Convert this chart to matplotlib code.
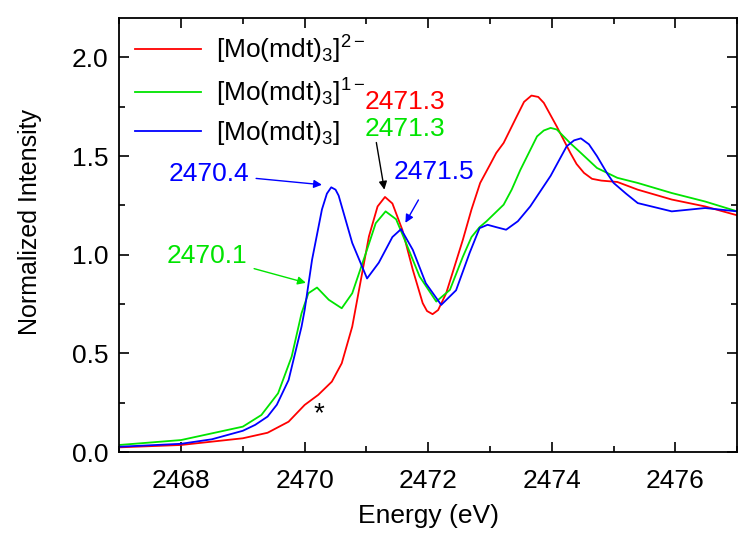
import numpy as np
import matplotlib
matplotlib.use('Agg')
import matplotlib.pyplot as plt

plt.rcParams['font.family'] = ['Liberation Sans', 'DejaVu Sans']
plt.rcParams['mathtext.fontset'] = 'custom'
plt.rcParams['mathtext.rm'] = 'Liberation Sans'
plt.rcParams['mathtext.it'] = 'Liberation Sans:italic'

# [Mo(mdt)3]2-  (red)
e_red = [2467.0, 2468.0, 2469.0, 2469.4, 2469.74, 2470.0, 2470.22, 2470.44, 2470.6,
         2470.77, 2470.9, 2471.04, 2471.18, 2471.3, 2471.42, 2471.58, 2471.75, 2471.91,
         2471.98, 2472.07, 2472.16, 2472.29, 2472.56, 2472.7, 2472.84, 2473.0, 2473.1,
         2473.22, 2473.43, 2473.55, 2473.67, 2473.78, 2473.87, 2474.08,
         2474.3, 2474.4, 2474.52, 2474.65, 2474.8, 2475.06, 2475.39, 2475.94, 2476.48, 2477.0]
i_red = [0.024, 0.036, 0.07, 0.098, 0.154, 0.239, 0.29, 0.357, 0.45,
         0.636, 0.856, 1.093, 1.245, 1.293, 1.26, 1.127, 0.924, 0.755,
         0.715, 0.699, 0.72, 0.805, 1.076, 1.23, 1.364, 1.457, 1.516,
         1.567, 1.70, 1.775, 1.807, 1.80, 1.77, 1.65,
         1.516, 1.46, 1.415, 1.385, 1.376, 1.369, 1.33, 1.28, 1.245, 1.20]

# [Mo(mdt)3]1-  (green)
e_grn = [2467.0, 2468.0, 2469.0, 2469.3, 2469.57, 2469.79, 2469.95, 2470.06, 2470.2,
         2470.39, 2470.6, 2470.77, 2470.99, 2471.15, 2471.31, 2471.48, 2471.64, 2471.86,
         2472.13, 2472.35, 2472.56, 2472.7, 2472.83, 2472.94, 2473.22, 2473.35, 2473.49,
         2473.76, 2473.87, 2473.98, 2474.08, 2474.19, 2474.3,
         2474.47, 2474.73, 2475.06, 2475.39, 2475.94, 2476.48, 2477.0]
i_grn = [0.036, 0.061, 0.129, 0.188, 0.298, 0.484, 0.704, 0.805, 0.834,
         0.772, 0.729, 0.805, 1.008, 1.16, 1.22, 1.18, 1.06, 0.89,
         0.763, 0.822, 0.99, 1.09, 1.14, 1.169, 1.254, 1.33, 1.43,
         1.60, 1.63, 1.643, 1.635, 1.60, 1.565,
         1.516, 1.44, 1.39, 1.364, 1.313, 1.27, 1.22]

# [Mo(mdt)3]  (blue)
e_blu = [2467.0, 2468.0, 2468.5, 2469.0, 2469.2, 2469.4, 2469.55, 2469.74, 2469.95, 2470.0,
         2470.12, 2470.28, 2470.36, 2470.43, 2470.5, 2470.55, 2470.77, 2471.01, 2471.2,
         2471.42, 2471.56, 2471.75, 2471.96, 2472.21, 2472.45, 2472.67, 2472.83, 2472.96,
         2473.1, 2473.26, 2473.45, 2473.65, 2473.98, 2474.24, 2474.36, 2474.47, 2474.6,
         2474.73, 2474.9, 2475.0, 2475.2, 2475.39, 2475.94, 2476.48, 2477.0]
i_blu = [0.027, 0.042, 0.065, 0.108, 0.138, 0.18, 0.24, 0.365, 0.636, 0.72,
         0.975, 1.23, 1.31, 1.342, 1.33, 1.30, 1.06, 0.88, 0.96,
         1.09, 1.13, 1.025, 0.856, 0.746, 0.82, 1.01, 1.135, 1.152,
         1.14, 1.127, 1.17, 1.245, 1.40, 1.55, 1.58, 1.59, 1.56,
         1.50, 1.41, 1.364, 1.31, 1.262, 1.22, 1.237, 1.22]

labels = [r'[Mo(mdt)$_3$]$^{2-}$', r'[Mo(mdt)$_3$]$^{1-}$', r'[Mo(mdt)$_3$]']
red, green, blue = '#ff0000', '#00e400', '#0000ff'

fig = plt.figure(figsize=(7.5, 5.46), dpi=100)
ax = fig.add_axes([0.159, 0.172, 0.824, 0.795])

ax.plot(e_red, i_red, color=red, lw=1.3, label=labels[0])
ax.plot(e_grn, i_grn, color=green, lw=1.3, label=labels[1])
ax.plot(e_blu, i_blu, color=blue, lw=1.3, label=labels[2])

ax.set_xlim(2467, 2477)
ax.set_ylim(0, 2.2)
ax.set_xticks([2468, 2470, 2472, 2474, 2476])
ax.set_xticks(np.arange(2467, 2478, 1), minor=True)
ax.set_yticks([0.0, 0.5, 1.0, 1.5, 2.0])
ax.set_yticks(np.arange(0, 2.21, 0.25), minor=True)
ax.set_yticklabels(['0.0', '0.5', '1.0', '1.5', '2.0'])
ax.tick_params(which='both', direction='in', top=True, right=True, labelsize=19, width=1.2)
ax.tick_params(which='major', length=7)
ax.tick_params(which='minor', length=4)
ax.tick_params(axis='x', pad=12)
ax.tick_params(axis='y', pad=8)
for s in ax.spines.values():
    s.set_linewidth(1.3)

ax.set_xlabel('Energy (eV)', fontsize=19, labelpad=8)
ax.set_ylabel('Normalized Intensity', fontsize=18)
ax.yaxis.set_label_coords(-0.125, 0.53)

ax.legend(loc='upper left', frameon=False, fontsize=19, handlelength=2.5,
          borderaxespad=0.15, borderpad=0.45, labelspacing=0.4, handletextpad=0.55)

fs = 19
ax.annotate('2470.4', xy=(2470.28, 1.355), xytext=(2468.45, 1.41), color=blue, fontsize=fs,
            ha='center', va='center',
            arrowprops=dict(arrowstyle='-|>', color=blue, lw=1, mutation_scale=12, shrinkA=3, shrinkB=0))
ax.annotate('2470.1', xy=(2470.02, 0.858), xytext=(2468.42, 0.995), color=green, fontsize=fs,
            ha='center', va='center',
            arrowprops=dict(arrowstyle='-|>', color=green, lw=1, mutation_scale=12, shrinkA=3, shrinkB=0))
ax.text(2471.62, 1.774, '2471.3', color=red, fontsize=fs, ha='center', va='center')
ax.text(2471.62, 1.64, '2471.3', color=green, fontsize=fs, ha='center', va='center')
ax.annotate('', xy=(2471.29, 1.33), xytext=(2471.16, 1.569),
            arrowprops=dict(arrowstyle='-|>', color='black', lw=1, mutation_scale=12, shrinkA=0, shrinkB=0))
ax.annotate('2471.5', xy=(2471.63, 1.162), xytext=(2472.1, 1.42), color=blue, fontsize=fs,
            ha='center', va='center',
            arrowprops=dict(arrowstyle='-|>', color=blue, lw=1, mutation_scale=12, shrinkA=11, shrinkB=0))
ax.text(2470.23, 0.19, '*', fontsize=20, ha='center', va='center')

fig.savefig('out.png', dpi=100)
